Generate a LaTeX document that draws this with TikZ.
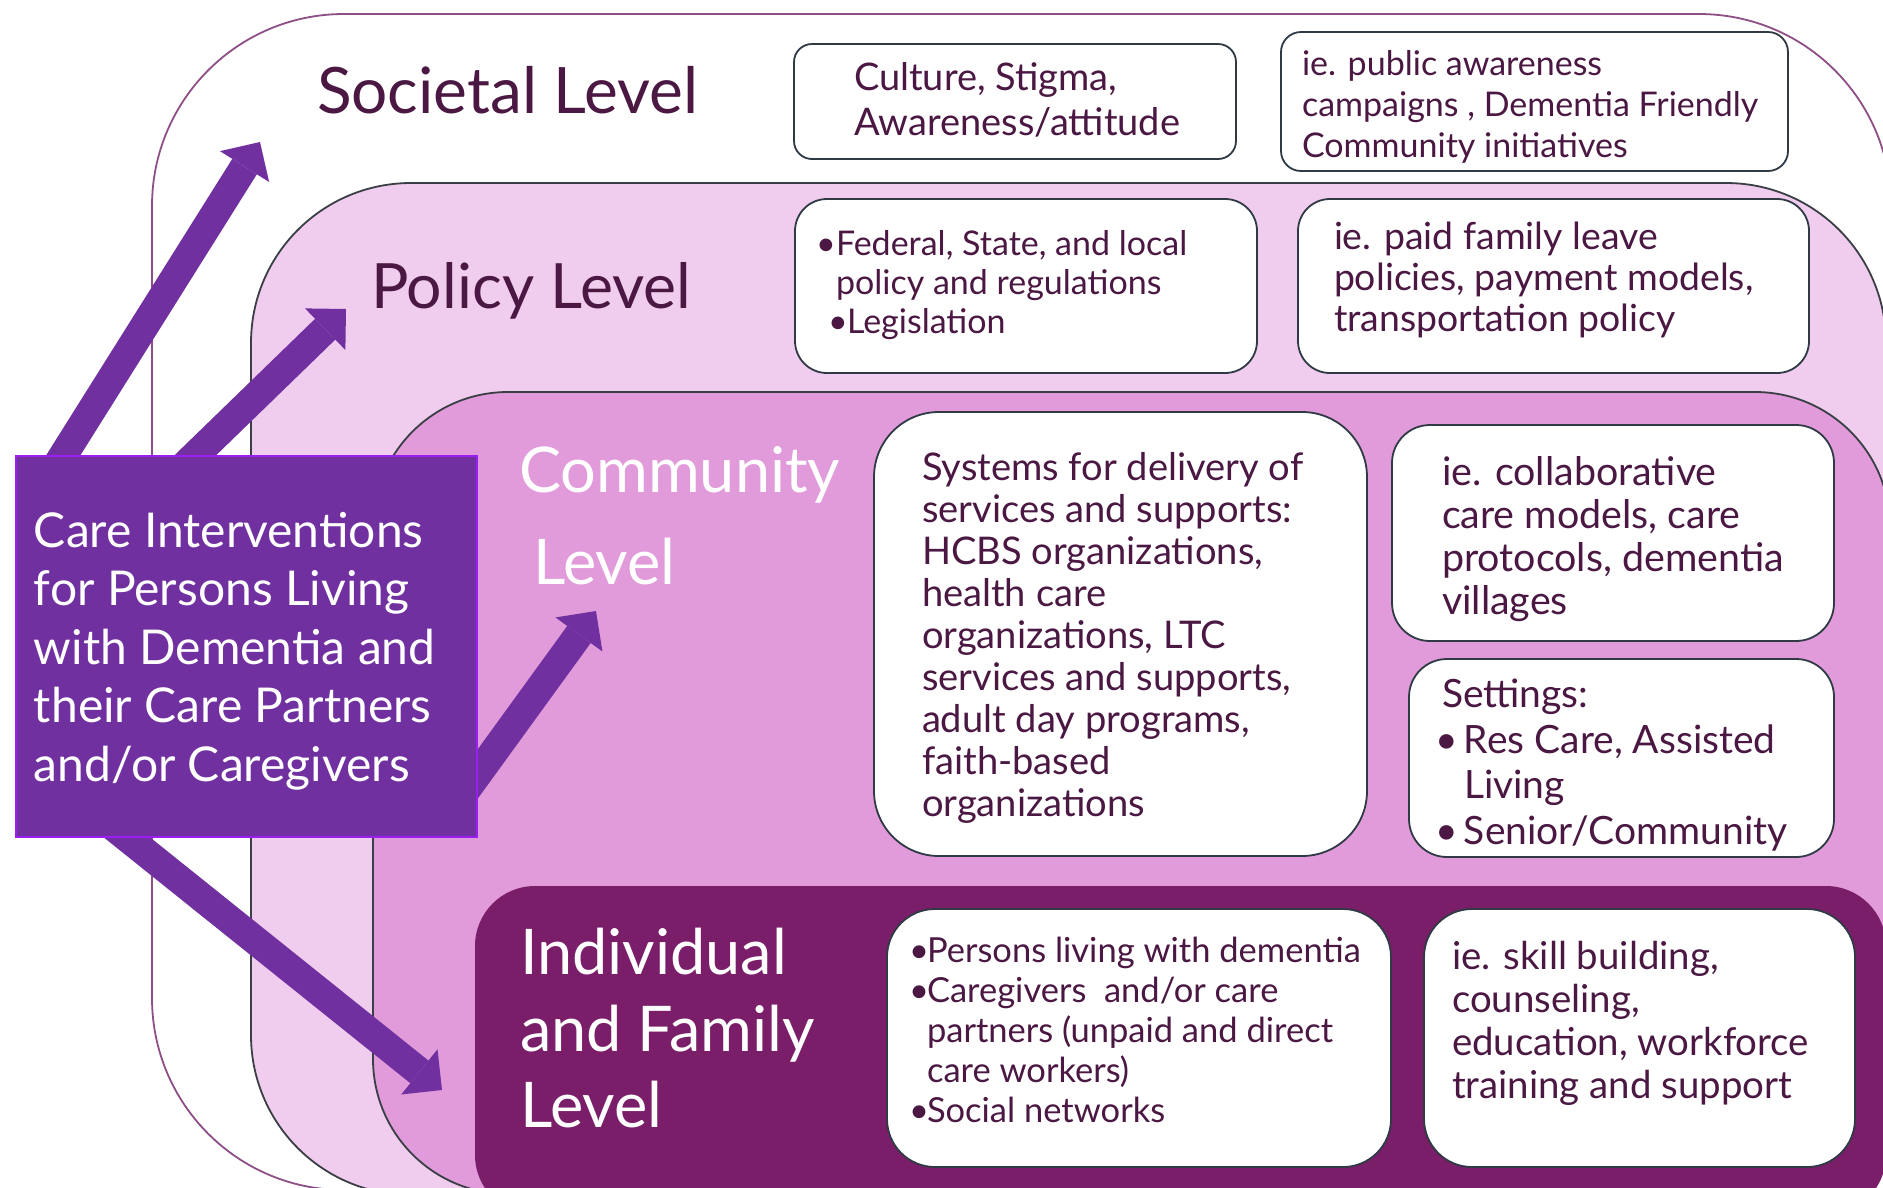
\documentclass[tikz,border=0pt]{standalone}
\usepackage{fontspec}
\setmainfont{Lato}
\usetikzlibrary{arrows.meta,calc}
\pgfdeclarelayer{back}
\pgfdeclarelayer{mid}
\pgfsetlayers{back,mid,main}
\definecolor{outerln}{HTML}{8E4F86}
\definecolor{polfill}{HTML}{F0CDEE}
\definecolor{comfill}{HTML}{E29BDA}
\definecolor{indfill}{HTML}{7A1E69}
\definecolor{shapeln}{HTML}{3A3F45}
\definecolor{boxln}{HTML}{2F3A44}
\definecolor{txt}{HTML}{4A1842}
\definecolor{carefill}{HTML}{7030A0}
\definecolor{careln}{HTML}{9A1EF0}
\newcommand{\fsz}[2]{\fontsize{#1}{#2}\selectfont}
\newcommand{\bul}[1]{\makebox[#1][l]{\textbullet}}
\begin{document}
\begin{tikzpicture}[x=1pt,y=-1pt,
  tbox/.style={draw=boxln,fill=white,line width=1.8pt,rounded corners=#1,anchor=north west,inner sep=0pt,outer sep=0pt},
  tbox/.default=25,
  btext/.style={anchor=west,inner sep=0pt,outer sep=0pt,align=left,text=txt},
  lvltext/.style={anchor=west,inner sep=0pt,outer sep=0pt,align=left},
  bigarrow/.style={draw=carefill,line width=29pt,-{Triangle[width=58pt,length=29pt,line width=0pt]}},
  lvlshape/.style={line width=1.8pt}
]
\useasboundingbox (0,0) rectangle (1883,1187);
\begin{pgfonlayer}{back}
\begin{scope}
\clip (0,0) rectangle (1883,1187);
\fill[white] (0,0) rectangle (1883,1187);
\draw[lvlshape,draw=outerln,fill=white,rounded corners=192] (152,14) rectangle (1891,1190);
\draw[lvlshape,draw=shapeln,fill=polfill,rounded corners=160] (251,183) rectangle (1886,1195);
\draw[lvlshape,draw=shapeln,fill=comfill,rounded corners=135] (373,392) rectangle (1890,1194);
\fill[indfill,rounded corners=60] (475,886) rectangle (1886,1215);
\end{scope}
% boxes
\node[tbox=18, minimum width=442pt, minimum height=115pt] (culture) at (794,44) {};
\node[tbox=20, minimum width=507pt, minimum height=139pt] (aware) at (1281,32) {};
\node[tbox=32, minimum width=462pt, minimum height=174pt] (federal) at (795,199) {};
\node[tbox=32, minimum width=511pt, minimum height=174pt] (paid) at (1298,199) {};
\node[tbox=65, minimum width=493pt, minimum height=444pt] (systems) at (874,412) {};
\node[tbox=38, minimum width=442pt, minimum height=216pt] (collab) at (1392,425) {};
\node[tbox=38, minimum width=425pt, minimum height=198pt] (settings) at (1409,659) {};
\node[tbox=48, minimum width=504pt, minimum height=258pt] (persons) at (887,909) {};
\node[tbox=48, minimum width=431pt, minimum height=258pt] (skill) at (1424,909) {};
% box texts
\node[btext, font=\fsz{38}{45}] (tculture) at (854,99.5) {Culture, Stigma,\\Awareness/attitude};
\node[btext, font=\fsz{34}{41}] (taware) at (1302,107) {ie. public awareness\\campaigns , Dementia Friendly\\Community initiatives};
\node[btext, font=\fsz{34}{39}] (tfederal) at (816,285) {\bul{20pt}Federal, State, and local\\\hspace*{20pt}policy and regulations\\\hspace*{12pt}\bul{19pt}Legislation};
\node[btext, font=\fsz{37.4}{41}] (tpaid) at (1334,280) {ie. paid family leave\\policies, payment models,\\transportation policy};
\node[btext, font=\fsz{38.1}{42}] (tsystems) at (922,638) {Systems for delivery of\\services and supports:\\HCBS organizations,\\health care\\organizations, LTC\\services and supports,\\adult day programs,\\faith-based\\organizations};
\node[btext, font=\fsz{39.4}{43}] (tcollab) at (1442,539) {ie. collaborative\\care models, care\\protocols, dementia\\villages};
\node[btext, font=\fsz{39}{45.5}] (tsettings) at (1435,765) {\hspace*{7pt}Settings:\\\bul{29pt}Res Care, Assisted\\\hspace*{29pt}Living\\\bul{29pt}Senior/Community};
\node[btext, font=\fsz{34.5}{40}] (tpersons) at (909,1030) {\bul{18pt}Persons living with dementia\\\bul{18pt}Caregivers~ and/or care\\\hspace*{18pt}partners (unpaid and direct\\\hspace*{18pt}care workers)\\\bul{18pt}Social networks};
\node[btext, font=\fsz{38.4}{43}] (tskill) at (1452,1023.5) {ie. skill building,\\counseling,\\education, workforce\\training and support};
% level labels
\node[lvltext, text=txt, font=\fsz{64}{70}] (lsoc) at (317,90) {Societal Level};
\node[lvltext, text=txt, font=\fsz{62.5}{70}] (lpol) at (371,291) {Policy Level};
\node[lvltext, text=white, font=\fsz{63}{92}] (lcom) at (519,516) {Community\\\hspace*{14pt}Level};
\node[lvltext, text=white, font=\fsz{63}{76.5}] (lind) at (520,1028.5) {Individual\\and Family\\Level};
\end{pgfonlayer}
% care box
\node[draw=careln, fill=carefill, line width=2pt, minimum width=461pt, minimum height=381pt, anchor=north west, inner sep=0pt, outer sep=0pt] (care) at (16,456) {};
\node[lvltext, text=white, font=\fsz{48}{58.5}] (tcare) at (34,651) {Care Interventions\\for Persons Living\\with Dementia and\\their Care Partners\\and/or Caregivers};
% arrows
\coordinate (a1s) at ($(care.north west)+(30.5,26)$);
\coordinate (a1e) at (260,142);
\coordinate (a2s) at ($(care.north west)+(160,18)$);
\coordinate (a2e) at (346,309);
\coordinate (a3s) at ($(care.north west)+(445,341)$);
\coordinate (a3e) at (596,611);
\coordinate (a4s) at ($(care.north west)+(90.5,365)$);
\coordinate (a4e) at (442,1090);
\begin{pgfonlayer}{mid}
\draw[bigarrow] (a1s) -- (a1e);
\draw[bigarrow] (a2s) -- (a2e);
\draw[bigarrow] (a3s) -- (a3e);
\draw[bigarrow] (a4s) -- (a4e);
\end{pgfonlayer}
\end{tikzpicture}
\end{document}
